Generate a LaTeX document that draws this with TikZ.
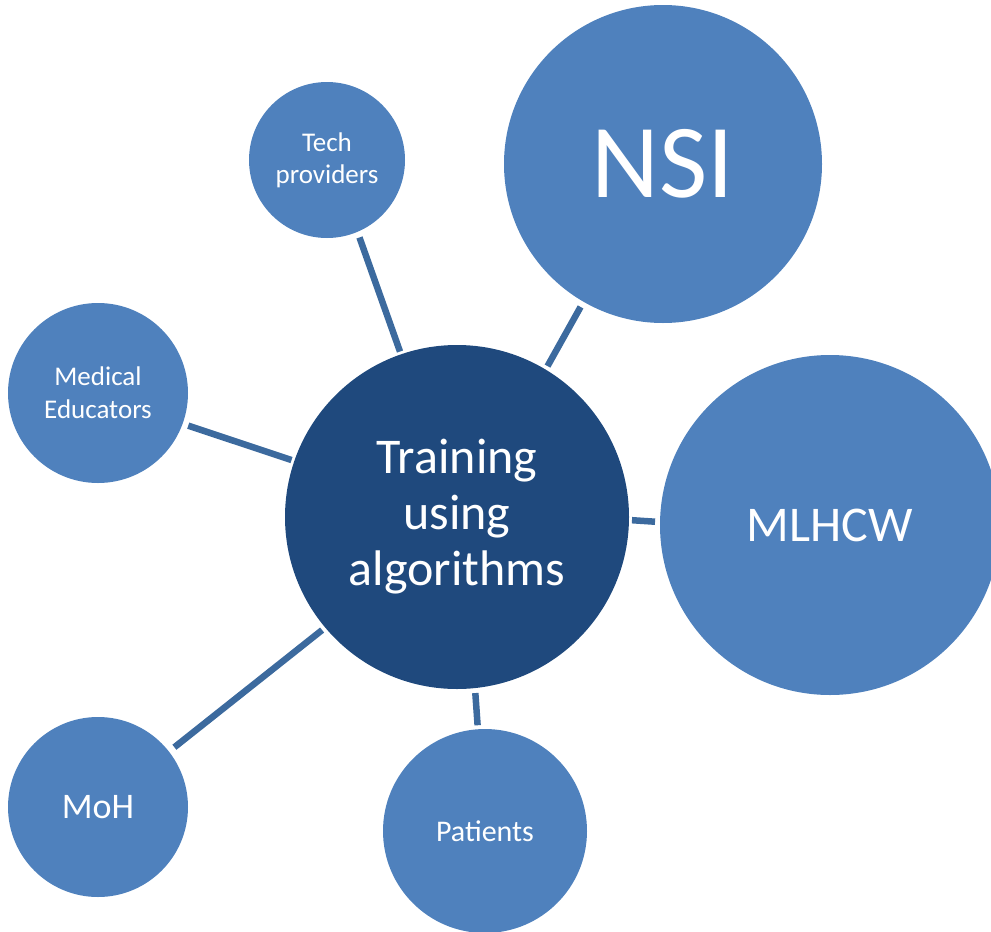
\documentclass[tikz,border=0pt]{standalone}
\usepackage{fontspec}
\setmainfont{Carlito}
\definecolor{satblue}{HTML}{4F81BD}
\definecolor{hubblue}{HTML}{1F497D}
\definecolor{linkblue}{HTML}{3C6A9E}
\begin{document}
\begin{tikzpicture}[x=1pt,y=-1pt,
  bubble/.style={circle,fill=satblue,text=white,inner sep=0pt,outer sep=0pt,align=center},
  hub/.style={bubble,fill=hubblue},
  link/.style={draw=linkblue,line width=6.5pt}]
\useasboundingbox (0,0) rectangle (991,932);

% hub and satellites
\node[hub,minimum size=344pt,font={\fontsize{50}{56}\selectfont}] (main) at (457,517) {Training\\using\\algorithms};
\node[bubble,minimum size=318pt,font={\fontsize{105}{110}\selectfont}] (nsi) at (663,164) {NSI};
\node[bubble,minimum size=340pt,font={\fontsize{50}{56}\selectfont}] (mlhcw) at (830,525) {MLHCW};
\node[bubble,minimum size=156pt,font={\fontsize{27}{32}\selectfont}] (tech) at (327,160) {Tech\\providers};
\node[bubble,minimum size=180pt,font={\fontsize{27}{33}\selectfont}] (med) at (98,393) {Medical\\Educators};
\node[bubble,minimum size=180pt,font={\fontsize{36}{40}\selectfont}] (moh) at (98,807) {MoH};
\node[bubble,minimum size=204pt,font={\fontsize{30}{34}\selectfont}] (pat) at (485,831) {Patients};

% spokes
\draw[link,shorten <=3pt,shorten >=6pt] (main.109.7) -- (tech.-67.7);
\draw[link,shorten <=4pt,shorten >=6pt] (main.59.2) -- (nsi.-120.1);
\draw[link,shorten <=3pt,shorten >=5pt] (main.-1.6) -- (mlhcw.179);
\draw[link,shorten <=3pt,shorten >=6pt] (main.161.4) -- (med.-20.1);
\draw[link,shorten <=4pt,shorten >=7pt] (main.-140.5) -- (moh.38.3);
\draw[link,shorten <=5pt,shorten >=4pt] (main.-84.8) -- (pat.94.3);
\end{tikzpicture}
\end{document}
